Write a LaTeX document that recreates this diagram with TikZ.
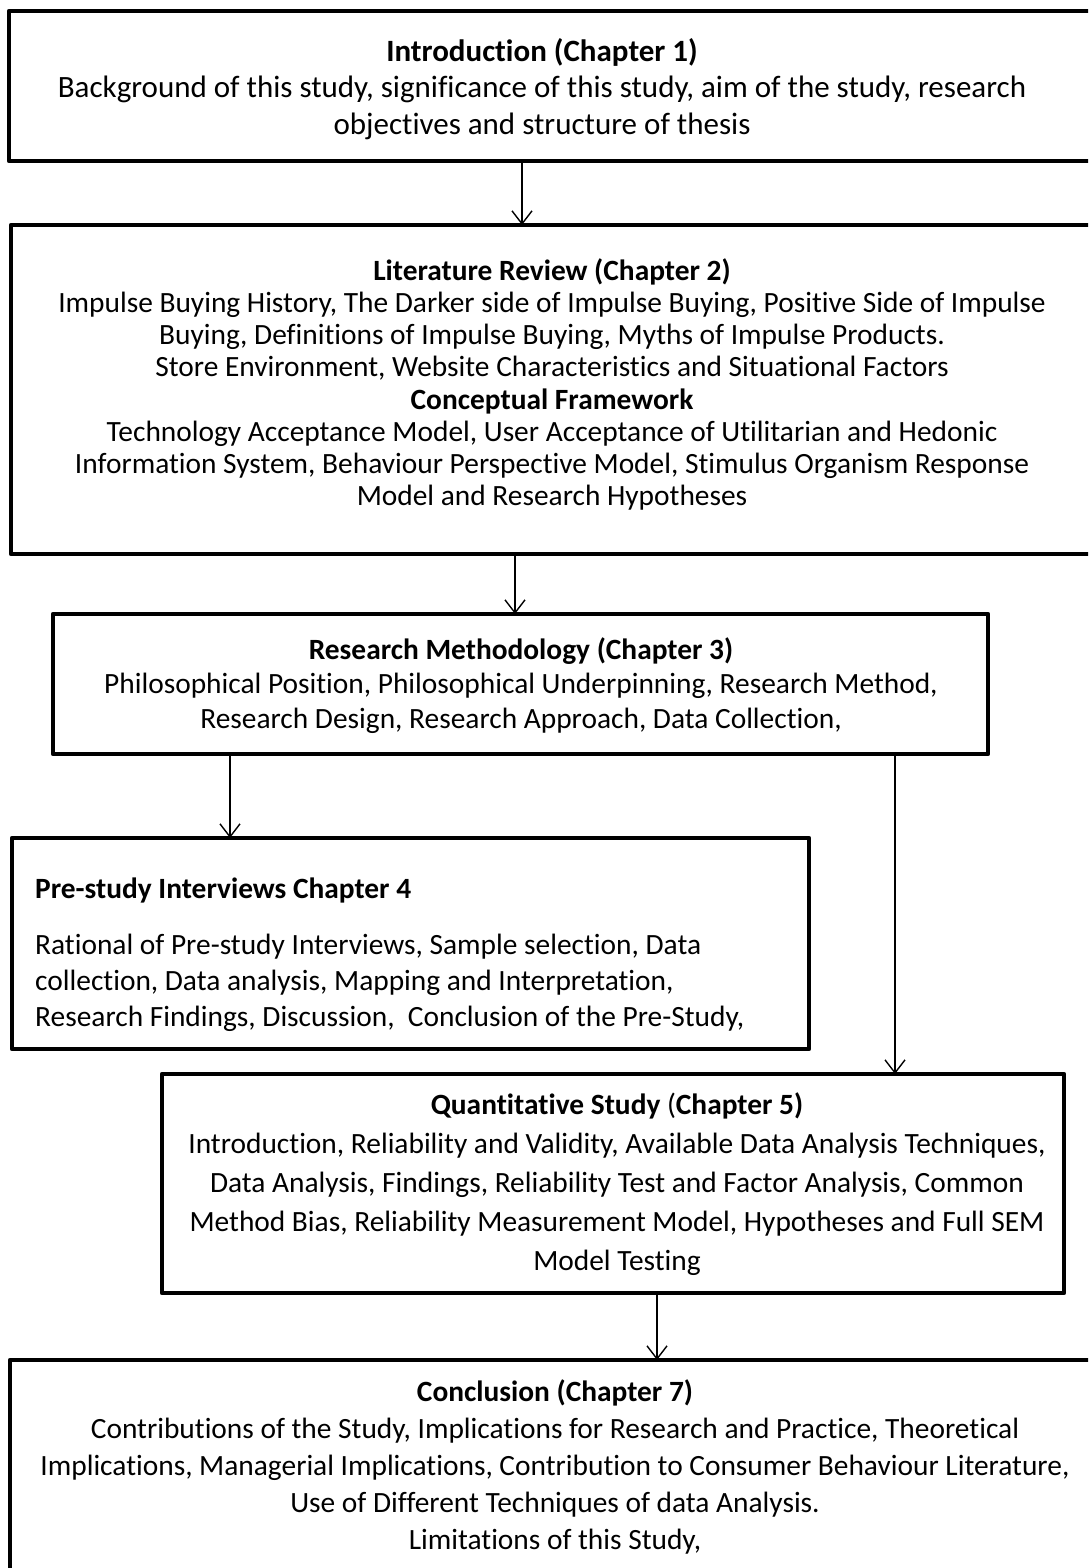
\documentclass[tikz,border=0pt]{standalone}
\usepackage{fontspec}
\setmainfont{Carlito}[Ligatures=NoCommon]
\usetikzlibrary{arrows.meta}
\begin{document}
\begin{tikzpicture}[x=1pt,y=-1pt,
  box/.style={draw, rectangle, line width=4.5pt, inner sep=0pt, outer sep=0pt, line join=round},
  arr/.style={line width=1.4pt, -{Straight Barb[length=13pt,width=20pt,line width=1.4pt]}},
  txt/.style={inner sep=0pt, align=center, anchor=north},
  fs/.style={font=\fontsize{29.4}{#1}\selectfont},
  fsl/.style={font=\fontsize{31}{#1}\selectfont}
]
\useasboundingbox (0,0) rectangle (1088,1568);
\clip (0,0) rectangle (1088,1568);
\fill[white] (0,0) rectangle (1088,1568);

% chapter boxes
\node[box, minimum width=1091, minimum height=150] (b1) at (554.5,86) {};
\node[box, minimum width=1089, minimum height=329] (b2) at (555.5,389.5) {};
\node[box, minimum width=935,  minimum height=140] (b3) at (520.5,684) {};
\node[box, minimum width=797,  minimum height=211] (b4) at (410.5,943.5) {};
\node[box, minimum width=902,  minimum height=219] (b5) at (613,1183.5) {};
\node[box, minimum width=1090, minimum height=240] (b6) at (555,1480) {};

% arrow columns
\coordinate (c1) at (522,0);
\coordinate (c2) at (515,0);
\coordinate (c3) at (230,0);
\coordinate (c4) at (895,0);
\coordinate (c5) at (657,0);

\draw[arr] (b1.south -| c1) -- (b2.north -| c1);
\draw[arr] (b2.south -| c2) -- (b3.north -| c2);
\draw[arr] (b3.south -| c3) -- (b4.north -| c3);
\draw[arr] (b3.south -| c4) -- (b5.north -| c4);
\draw[arr] (b5.south -| c5) -- (b6.north -| c5);

% box texts (node top = first baseline - 0.7 baselineskip)
\node[txt, fsl=36.5] (t1) at (542,35.45) {\strut\textbf{Introduction (Chapter 1)}\\
Background of this study, significance of this study, aim of the study, research\\
objectives and structure of thesis};

\node[txt, fs=32.2] (t2) at (552,257.5) {\strut\textbf{Literature Review (Chapter 2)}\\
Impulse Buying History, The Darker side of Impulse Buying, Positive Side of Impulse\\
Buying, Definitions of Impulse Buying, Myths of Impulse Products.\\
Store Environment, Website Characteristics and Situational Factors\\
\textbf{Conceptual Framework}\\
Technology Acceptance Model, User Acceptance of Utilitarian and Hedonic\\
Information System, Behaviour Perspective Model, Stimulus Organism Response\\
Model and Research Hypotheses};

\node[txt, fs=34.5] (t3) at (521,635) {\strut\textbf{Research Methodology (Chapter 3)}\\
Philosophical Position, Philosophical Underpinning, Research Method,\\
Research Design, Research Approach, Data Collection,};

\node[txt, fs=36, align=left, anchor=north west] (t4) at (35,872.8) {\strut\textbf{Pre-study Interviews Chapter 4}\\[20pt]
Rational of Pre-study Interviews, Sample selection, Data\\
collection, Data analysis, Mapping and Interpretation,\\
Research Findings, Discussion,\ \ Conclusion of the Pre-Study,};

\node[txt, fs=39] (t5) at (617,1086.7) {\strut\textbf{Quantitative Study} (\textbf{Chapter 5)}\\
Introduction, Reliability and Validity, Available Data Analysis Techniques,\\
Data Analysis, Findings, Reliability Test and Factor Analysis, Common\\
Method Bias, Reliability Measurement Model, Hypotheses and Full SEM\\
Model Testing};

\node[txt, fs=37] (t6) at (555,1375.1) {\strut\textbf{Conclusion (Chapter 7)}\\
Contributions of the Study, Implications for Research and Practice, Theoretical\\
Implications, Managerial Implications, Contribution to Consumer Behaviour Literature,\\
Use of Different Techniques of data Analysis.\\
Limitations of this Study,};
\end{tikzpicture}
\end{document}
